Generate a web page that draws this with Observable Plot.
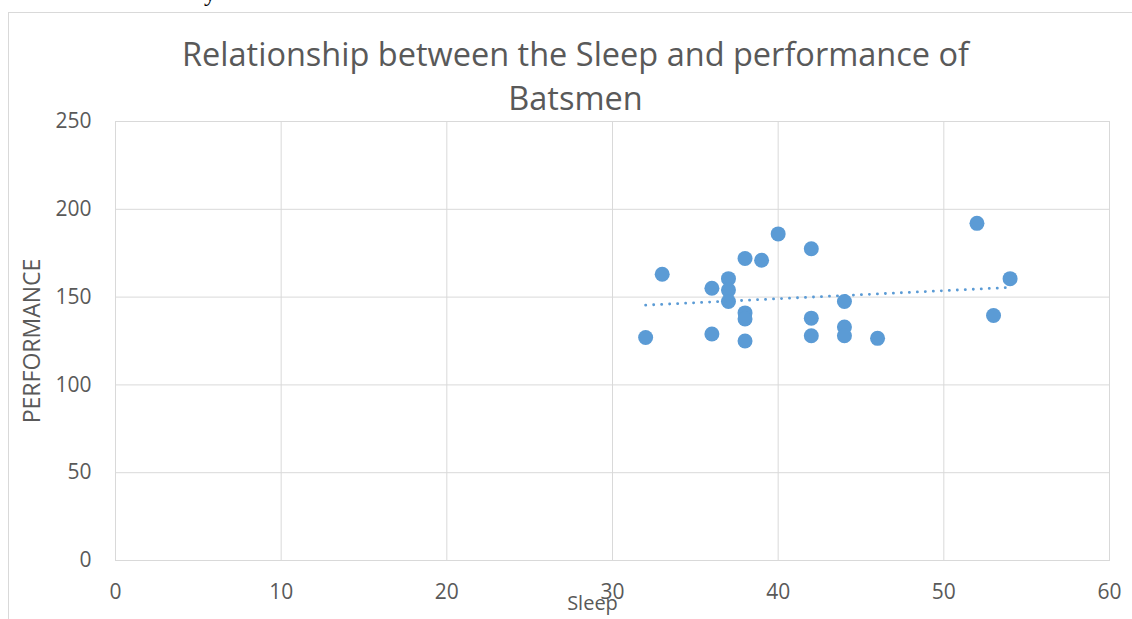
<!DOCTYPE html>
<html>
<head>
<meta charset="utf-8">
<script src="https://cdn.jsdelivr.net/npm/d3@7"></script>
<script src="https://cdn.jsdelivr.net/npm/@observablehq/plot@0.6"></script>
<style>
  html, body { margin: 0; padding: 0; background: #fff; }
  body { width: 1132px; height: 619px; overflow: hidden; position: relative; }
  #frame { position: absolute; left: 8px; top: 12px; width: 1200px; height: 700px;
           border-left: 1px solid #d9d9d9; border-top: 1px solid #d9d9d9; }
  #chart { position: absolute; left: 0; top: 0; }
  #stray { position: absolute; left: 204px; top: -19px; font: 24px "Liberation Serif", serif; color: #000; line-height: 1; }
</style>
</head>
<body>
<div id="stray">y</div>
<div id="frame"></div>
<div id="chart"></div>
<script>
// Hours of sleep and batting performance, one entry per batsman
const sleep = [32, 33, 36, 36, 37, 37, 37, 38, 38, 38, 38, 39, 40, 42, 42, 42, 44, 44, 44, 46, 52, 53, 54];
const performance = [127, 163, 155, 129, 160.5, 154, 147.5, 172, 141, 137.5, 125, 171, 186, 177.5, 138, 128, 147.5, 133, 128, 126.5, 192, 139.5, 160.5];

const xTicks = [0, 10, 20, 30, 40, 50, 60];
const yTicks = [0, 50, 100, 150, 200, 250];

const titleText = "Relationship between the Sleep and performance of\nBatsmen";
const xLabel = "Sleep";
const yLabel = "PERFORMANCE";

const rows = sleep.map((s, i) => ({sleep: s, performance: performance[i]}));

const grey = "#595959";
const gridColor = "#d9d9d9";
const blue = "#5b9bd5";
const font = "'Open Sans', 'Liberation Sans', Arial, sans-serif";

const chart = Plot.plot({
  width: 1132,
  height: 619,
  marginLeft: 115,
  marginRight: 23,
  marginTop: 121,
  marginBottom: 59,
  style: {fontFamily: font, background: "transparent", overflow: "visible"},
  x: {domain: [0, 60]},
  y: {domain: [0, 250]},
  marks: [
    Plot.gridX(xTicks, {stroke: gridColor, strokeOpacity: 1, strokeWidth: 1}),
    Plot.gridY(yTicks, {stroke: gridColor, strokeOpacity: 1, strokeWidth: 1}),
    Plot.frame({stroke: gridColor, strokeWidth: 1}),
    Plot.axisX({ticks: xTicks, tickSize: 0, tickPadding: 24, fontSize: 21, fill: grey, label: null}),
    Plot.axisY({ticks: yTicks, tickSize: 0, tickPadding: 24, fontSize: 21, fill: grey, label: null}),
    Plot.dot(rows, {x: "sleep", y: "performance", r: 7.5, fill: blue, stroke: null}),
    Plot.linearRegressionY(rows, {x: "sleep", y: "performance", stroke: blue, strokeWidth: 2.8,
      strokeDasharray: "0.1 7.9", strokeLinecap: "round", ci: 0}),
    Plot.text([titleText], {frameAnchor: "top", dx: -37, dy: -87, lineAnchor: "top",
      fontSize: 32.5, lineHeight: 1.36, fill: grey, text: d => d}),
    Plot.text([xLabel], {frameAnchor: "bottom", dx: -20, dy: 49, fontSize: 20, fill: grey, text: d => d}),
    Plot.text([yLabel], {frameAnchor: "left", dx: -83, rotate: -90, textAnchor: "middle",
      fontSize: 23, fill: grey, text: d => d})
  ]
});

document.getElementById("chart").appendChild(chart);
</script>
</body>
</html>
